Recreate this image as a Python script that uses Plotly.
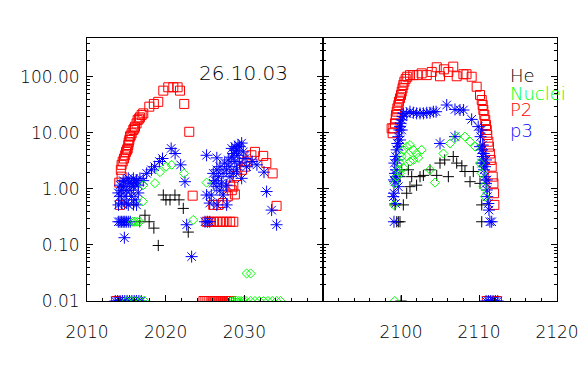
import plotly.graph_objects as go

# Time axis: minutes after 20:00 UT. Values below the axis floor are stored as 0.01.
x_tick_vals_a = [10, 20, 30]
x_tick_text_a = ["2010", "2020", "2030"]
x_tick_vals_b = [60, 70, 80]
x_tick_text_b = ["2100", "2110", "2120"]
y_tick_vals = [0.01, 0.1, 1, 10, 100]
y_tick_text = ["0.01", "0.10", "1.00", "10.00", "100.00"]
title_text = "26.10.03"
legend_names = ["He", "Nuclei", "P2", "p3"]

# ---------------- left panel (20:10 - 20:40) ----------------
he_t_a = [15.9, 16.7, 17.37, 17.9, 18.5, 19.06, 19.7, 20.04, 20.55, 21.18, 21.7, 22.24, 22.87]
he_v_a = [0.52, 0.26, 0.34, 0.26, 0.2, 0.098, 0.78, 0.64, 0.64, 0.78, 0.64, 0.45, 0.17]

nuc_t_a = [15.8, 16.1, 16.4, 16.7, 17.1, 17.15, 18.64, 19.28, 20.04, 20.76,
           22.33, 23.5, 25.2, 30.29, 30.8,
           15.0, 15.6, 16.2, 16.8, 17.3, 28.4, 28.7, 29.0, 29.3, 29.6,
           29.9, 30.2, 30.8, 31.35, 31.9, 32.45, 33.0, 33.55, 34.1, 34.6]
nuc_v_a = [0.26, 0.26, 0.26, 0.26, 0.6, 1.17, 1.27, 2.0, 2.5, 2.7,
           1.9, 0.28, 1.3, 0.031, 0.031] + [0.01] * 20

p2_t_a = [14.19, 14.1, 14.4, 14.4, 14.54, 14.7, 14.96, 15.17, 15.25, 15.38,
          15.46, 15.68, 15.88, 16.1, 16.3, 16.44, 16.73, 16.95, 17.15, 17.92,
          18.5, 19.06, 19.7, 20.33, 20.97, 21.52, 21.82, 22.36, 23.0, 23.43,
          14.3, 14.85, 15.1, 15.3, 15.55, 16.0, 16.6,
          25.2, 25.6, 26.05, 26.5, 26.9, 27.3, 27.75, 28.2, 28.6,
          26.05, 26.7, 27.3, 27.9, 28.4, 28.6, 28.8, 28.2, 29.0, 29.7,
          30.1, 30.3, 30.9, 31.35, 32.4, 32.8, 33.6, 34.1,
          13.7, 24.8, 25.05, 25.3, 25.55, 25.8, 26.05, 26.3, 26.55, 26.8,
          27.05, 27.3, 27.55, 27.8, 28.05, 28.3]
p2_v_a = [0.52, 1.30, 1.66, 2.7, 3.1, 3.5, 4.6, 5.3, 6.1, 7.5,
          8.6, 9.9, 11.3, 12.9, 14.8, 17, 19, 21, 22.4, 29.5,
          33, 36, 57, 65.5, 65.5, 65.5, 57, 33, 10.5, 0.76,
          2.2, 4.0, 5.0, 6.8, 9.0, 12.0, 18.0,
          0.26, 0.26, 0.26, 0.26, 0.26, 0.26, 0.26, 0.26, 0.26,
          0.52, 0.52, 0.56, 0.74, 0.95, 1.1, 0.8, 1.15, 1.7, 2.2,
          2.5, 3.1, 4.0, 4.6, 3.9, 2.9, 1.9, 0.5] + [0.01] * 16

p3_t_a = [13.98, 14.19, 14.6, 14.83, 15.25, 15.68, 15.9, 16.3, 16.73, 17.15,
          14.4, 15.04, 15.68, 16.1, 16.52, 14.83, 15.46, 15.9, 15.25, 16.3,
          14.19, 15.04, 16.1, 14.6, 15.46, 16.52, 14.0, 14.4, 17.58, 18.2,
          18.6, 19.2, 19.6, 20.7, 21.2, 21.9, 22.45, 22.67, 23.3, 14.75,
          13.98, 14.2, 14.4, 14.6, 14.8, 15.0, 15.25, 15.5, 25.0, 25.3,
          25.6, 25.2, 26.5, 25.2, 25.6, 26.5, 27.75, 26.05, 26.27, 26.5,
          26.7, 26.9, 27.1, 27.3, 27.5, 27.75, 27.96, 28.17, 28.4, 28.6,
          28.8, 29.0, 29.2, 29.4, 29.66, 29.87, 30.1, 30.3, 29.66, 26.5,
          26.9, 27.3, 27.75, 28.17, 28.6, 29.0, 29.4, 28.4, 28.8, 29.2,
          26.05, 25.8, 31.0, 31.6, 32.5, 32.83, 33.47, 34.1, 13.6, 13.9,
          14.2, 14.5, 14.8, 15.1, 15.4, 15.7, 16.0, 16.3, 16.6, 16.9]
p3_v_a = [0.85, 1.17, 1.1, 1.35, 1.55, 1.27, 1.1, 1.41, 1.55, 1.41,
          0.56, 0.56, 0.74, 0.64, 0.85, 0.74, 0.95, 1.55, 0.52, 0.52,
          0.74, 0.95, 1.27, 1.41, 1.27, 1.17, 0.52, 0.95, 1.9, 2.2,
          2.5, 3.1, 3.5, 5.3, 4.3, 2.7, 1.35, 0.23, 0.062, 0.135,
          0.26, 0.26, 0.26, 0.26, 0.26, 0.26, 0.26, 0.26, 0.26, 0.26,
          0.26, 4.0, 3.6, 0.78, 0.56, 0.52, 0.52, 1.9, 1.41, 2.2,
          1.66, 2.5, 1.27, 1.9, 2.9, 2.2, 3.3, 2.5, 3.7, 4.3,
          3.1, 4.9, 4.0, 5.7, 6.6, 4.6, 3.5, 2.5, 1.55, 1.1,
          0.95, 0.78, 1.17, 1.66, 1.9, 2.2, 2.9, 5.3, 5.7, 6.1,
          1.27, 0.78, 3.1, 2.7, 2.0, 0.9, 0.42, 0.23, 0.01, 0.01] + [0.01] * 10

# ---------------- right panel (20:50 - 21:20) ----------------
he_t_b = [59.23, 60.3, 60.73, 61.15, 61.37, 62.0, 62.44, 62.87, 63.72, 64.58,
          65.0, 65.6, 66.07, 66.7, 67.14, 67.8, 68.2, 68.85, 69.27, 70.13,
          70.35, 59.45, 59.66, 59.87, 70.35, 59.87, 60.09, 60.94, 60.0]
he_v_b = [0.52, 0.52, 0.84, 1.1, 1.66, 1.17, 1.66, 1.75, 2.2, 1.75,
          2.9, 3.3, 1.66, 3.8, 2.9, 2.6, 2.05, 1.35, 2.05, 1.26,
          0.52, 0.26, 0.26, 0.26, 0.26, 1.66, 2.2, 2.2, 0.01]

nuc_t_b = [59.1, 59.23, 59.45, 59.66, 59.87, 60.09, 60.3, 60.73, 61.15, 61.58,
           62.0, 62.65, 59.87, 60.3, 60.73, 61.15, 61.58, 62.2, 63.72, 64.36,
           65.43, 66.3, 67.14, 68.2, 68.85, 69.5, 70.13, 70.35, 70.56, 70.77,
           59.2]
nuc_v_b = [0.52, 1.26, 1.66, 2.2, 2.9, 3.8, 5.0, 5.7, 6.1, 5.0,
           4.3, 5.0, 1.9, 2.4, 3.8, 3.1, 3.3, 3.6, 2.2, 1.3,
           4.3, 6.5, 8.6, 8.6, 7.0, 5.7, 2.9, 1.9, 1.1, 0.73,
           0.01]

p2_t_b = [58.8, 58.93, 59.02, 59.23, 59.32, 59.36, 59.45, 59.53, 59.66, 59.74,
          59.87, 60.0, 60.09, 60.2, 60.3, 60.43, 60.6, 60.8, 61.15, 61.58,
          62.1, 62.65, 63.3, 63.94, 64.58, 65.0, 65.5, 66.07, 66.7, 67.14,
          68.0, 68.4, 69.06, 69.7, 70.13, 70.35, 70.47, 70.56, 70.68, 70.8,
          70.9, 71.0, 71.06, 71.2, 71.28, 71.4, 71.5, 71.63, 71.76, 71.85,
          71.93, 71.97, 71.0, 72.3]
p2_v_b = [12.1, 9.9, 12.1, 14.9, 18.3, 21, 24, 27.6, 31.6, 36.3,
          41.6, 47.7, 54.7, 62.8, 72, 82.5, 92.5, 101, 108, 108,
          108, 116, 108, 123, 149, 103, 137, 123, 153, 103,
          112, 112, 101, 67, 47.7, 38.8, 31.6, 25.7, 21, 17,
          13.9, 11.3, 9.2, 7.0, 5.7, 4.3, 3.3, 2.5, 1.66, 1.26,
          0.84, 0.52, 0.01, 0.01]

p3_t_b = [59.02, 59.1, 59.23, 59.15, 59.32, 59.45, 59.53, 59.66, 59.8, 59.87,
          59.95, 60.09, 60.2, 60.3, 59.66, 59.36, 59.87, 60.09, 59.53, 59.45,
          59.74, 59.23, 59.1, 59.3, 59.1, 71.4, 71.63, 60.73, 61.15, 61.58,
          62.0, 62.44, 62.87, 63.3, 63.72, 64.15, 64.5, 65.86, 66.92, 67.56,
          68.0, 69.06, 69.9, 65.0, 66.92, 70.13, 70.35, 70.47, 70.56, 70.65,
          70.77, 70.9, 71.0, 71.06, 71.2, 71.28, 70.47, 70.35, 70.77, 71.0,
          70.6, 70.9, 70.3, 70.2, 70.9, 71.2, 71.5, 71.8, 72.1, 72.4]
p3_v_b = [0.73, 1.45, 1.9, 2.9, 3.8, 5.0, 6.5, 8.6, 11.3, 13.0,
          14.9, 17.1, 19.6, 22.4, 1.1, 2.2, 7.5, 11.3, 3.3, 1.66,
          5.7, 1.35, 0.84, 0.55, 0.26, 0.26, 0.26, 22.4, 24, 23,
          22.4, 22.4, 22.4, 23, 23, 24, 24, 31.6, 26.3, 25.7,
          25.7, 17.5, 13, 6.5, 8.6, 5.7, 5.0, 3.8, 2.9, 2.2,
          1.66, 1.26, 0.96, 0.73, 0.55, 0.42, 6.1, 2.9, 2.5, 1.45,
          4.3, 3.3, 11.3, 8.6, 0.01, 0.01, 0.01, 0.01, 0.01, 0.01]

FONT = "DejaVu Sans"
W, H = 586, 376

series = [
    ("He", "#000000", "cross-thin-open", 8, he_t_a, he_v_a, he_t_b, he_v_b),
    ("P2", "#ff0000", "square-open", 9, p2_t_a, p2_v_a, p2_t_b, p2_v_b),
    ("p3", "#0000ff", "asterisk-open", 10, p3_t_a, p3_v_a, p3_t_b, p3_v_b),
    ("Nuclei", "#00ff00", "diamond-open", 7, nuc_t_a, nuc_v_a, nuc_t_b, nuc_v_b),
]
legend_colors = {"He": "#000000", "Nuclei": "#00ff00", "P2": "#ff0000", "p3": "#0000ff"}

fig = go.Figure()
for name, color, symbol, size, ta, va, tb, vb in series:
    for t, v, xa, ya in ((ta, va, "x", "y"), (tb, vb, "x2", "y2")):
        fig.add_trace(go.Scatter(
            x=t, y=v, mode="markers", xaxis=xa, yaxis=ya, name=name,
            marker=dict(symbol=symbol, size=size, color=color,
                        line=dict(color=color, width=1)),
            showlegend=False, hoverinfo="skip", cliponaxis=True))

tickfont = dict(family=FONT, size=17, color="black", weight=200)
base = dict(showline=True, linecolor="black", linewidth=1, showgrid=False,
            zeroline=False, ticks="inside", tickcolor="black", ticklen=6,
            tickwidth=1, tickfont=tickfont, automargin=False)
xminor = dict(ticks="inside", ticklen=3, tickcolor="black", dtick=2, tick0=0,
              showgrid=False)
yminor = dict(ticks="inside", ticklen=3, tickcolor="black", dtick="D1",
              showgrid=False)

dom_a = [87 / W, 323 / W]
dom_b = [323 / W, 557 / W]
dom_y = [(H - 301) / H, (H - 38) / H]

fig.update_layout(
    width=W, height=H, margin=dict(l=0, r=0, t=0, b=0, pad=0, autoexpand=False),
    paper_bgcolor="white", plot_bgcolor="white",
    xaxis=dict(**base, domain=dom_a, range=[10, 40], tickmode="array",
               tickvals=x_tick_vals_a, ticktext=x_tick_text_a, mirror=True,
               anchor="y", minor=xminor, ticklabelstandoff=16),
    xaxis2=dict(**base, domain=dom_b, range=[50, 80], tickmode="array",
                tickvals=x_tick_vals_b, ticktext=x_tick_text_b, mirror=True,
                anchor="y2", minor=xminor, ticklabelstandoff=16),
    yaxis=dict(**base, domain=dom_y, type="log", range=[-2, 2.696],
               tickmode="array", tickvals=y_tick_vals, ticktext=y_tick_text,
               mirror="ticks", anchor="x", minor=yminor, ticklabelstandoff=3),
    yaxis2=dict(**base, domain=dom_y, type="log", range=[-2, 2.696],
                tickmode="array", tickvals=y_tick_vals, showticklabels=False,
                mirror="ticks", anchor="x2", minor=yminor),
)

annotations = [dict(text=title_text, x=243 / W, y=1 - 73 / H, xref="paper", yref="paper",
                    xanchor="center", yanchor="middle", showarrow=False,
                    font=dict(family=FONT, size=20, color="black", weight=200))]
legend_y = [75, 93, 109, 130]
for nm, yy in zip(legend_names, legend_y):
    annotations.append(dict(text=nm, x=508 / W, y=1 - yy / H, xref="paper", yref="paper",
                            xanchor="left", yanchor="middle", showarrow=False,
                            font=dict(family=FONT, size=18, color=legend_colors[nm],
                                      weight=200)))
fig.update_layout(annotations=annotations)

fig.write_html("out.html", config={"displayModeBar": False, "staticPlot": True},
               post_script="document.body.style.margin='0px';document.body.style.padding='0px';")
